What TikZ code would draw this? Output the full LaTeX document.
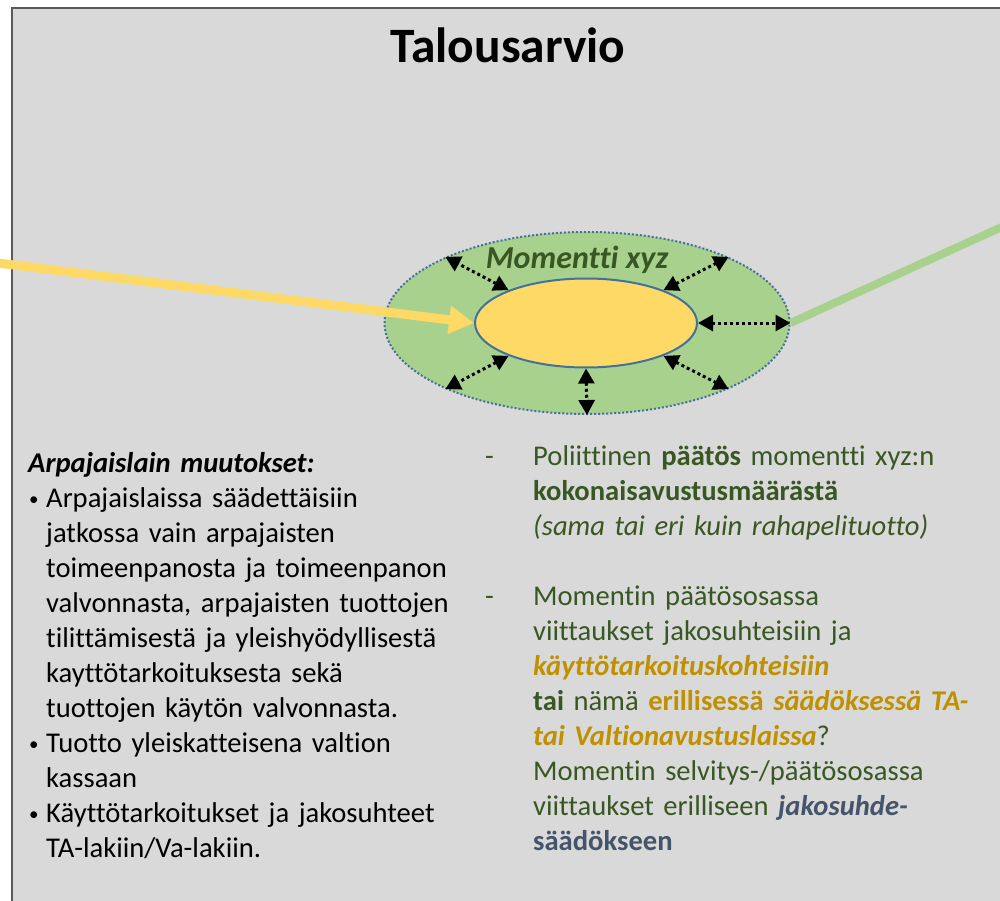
\documentclass[tikz,border=0pt]{standalone}
\usepackage{fontspec}
\setmainfont{Carlito}[Ligatures=NoCommon]
\usetikzlibrary{arrows.meta,shapes.geometric}
\definecolor{bggray}{HTML}{D9D9D9}
\definecolor{framegray}{HTML}{595959}
\definecolor{ogreen}{HTML}{A9D18E}
\definecolor{oblue}{HTML}{41719C}
\definecolor{iyellow}{HTML}{FFD966}
\definecolor{dgreen}{HTML}{385723}
\definecolor{gold}{HTML}{BF9000}
\definecolor{bluegray}{HTML}{44546A}
\newcommand\bul{\makebox[18pt][l]{\hspace*{1pt}\raisebox{1.5pt}{\fontsize{19}{19}\selectfont •}}}
\newcommand\ind{\hspace*{18pt}}
\newcommand\dsh{\makebox[48pt][l]{-}}
\newcommand\dind{\hspace*{48pt}}
\newcommand\bodyfont{\fontsize{28.6}{35}\selectfont\setlength{\lineskiplimit}{-100pt}}
\tikzset{
  outerell/.style={ellipse, draw=oblue, fill=ogreen, line width=2pt, dash pattern=on 2pt off 2pt, inner sep=0pt, minimum width=405pt, minimum height=182pt},
  innerell/.style={ellipse, draw=oblue, fill=iyellow, line width=2pt, inner sep=0pt, minimum width=222pt, minimum height=89pt},
  dotarrow/.style={black, line width=3pt, dash pattern=on 3pt off 3pt, {Triangle[length=15pt,width=16pt]}-{Triangle[length=15pt,width=16pt]}},
  yarrow/.style={iyellow, line width=9pt, -{Triangle[length=25pt,width=27pt]}},
  gline/.style={ogreen, line width=8pt},
  bodytext/.style={inner sep=0pt, anchor=base west, align=left, font=\bodyfont}
}
\begin{document}
\begin{tikzpicture}[x=1pt,y=-1pt]
\useasboundingbox (0,0) rectangle (1000,901);
\fill[bggray] (12,8) rectangle (1000,901);
\draw[framegray, line width=2.5pt] (12,901) -- (12,8) -- (1000,8);

\node[anchor=base, inner sep=0pt, font=\fontsize{49.5}{58}\selectfont\bfseries] (title) at (508,63) {Talousarvio};

\node[outerell] (outer) at (587,323) {};
\node[innerell] (inner) at (586,323) {};
\node[anchor=base, inner sep=0pt, text=dgreen, font=\fontsize{32}{38}\selectfont\bfseries\itshape] (mom) at (577,268) {Momentti xyz};

\draw[dotarrow] (inner.157) -- (outer.155);
\draw[dotarrow] (inner.23) -- (outer.25);
\draw[dotarrow] (inner.203) -- (outer.205);
\draw[dotarrow] (inner.337) -- (outer.335);
\draw[dotarrow] (inner.0) -- (outer.0);
\draw[dotarrow] (inner.270) -- (outer.270);

\coordinate (ystart) at (-2,263);
\coordinate (gend) at (1004,226);
\draw[yarrow] (ystart) -- (inner.west);
\draw[gline] (outer.east) -- (gend);

\node[bodytext, text width=460pt] (left) at (28,472) {%
\textbf{\textit{Arpajaislain muutokset:}}\\
\bul Arpajaislaissa säädettäisiin\\
\ind jatkossa vain arpajaisten\\
\ind toimeenpanosta ja toimeenpanon\\
\ind valvonnasta, arpajaisten tuottojen\\
\ind tilittämisestä ja yleishyödyllisestä\\
\ind kayttötarkoituksesta sekä\\
\ind tuottojen käytön valvonnasta.\\
\bul Tuotto yleiskatteisena valtion\\
\ind kassaan\\
\bul Käyttötarkoitukset ja jakosuhteet\\
\ind TA-lakiin/Va-lakiin.};

\node[bodytext, text width=520pt, text=dgreen] (right) at (485,465) {%
\dsh Poliittinen \textbf{päätös} momentti xyz:n\\
\dind\textbf{kokonaisavustusmäärästä}\\
\dind\textit{(sama tai eri kuin rahapelituotto)}\\[35pt]
\dsh Momentin päätösosassa\\
\dind viittaukset jakosuhteisiin ja\\
\dind{\color{gold}\bfseries\itshape käyttötarkoituskohteisiin}\\
\dind\textbf{tai} nämä {\color{gold}\bfseries erillisessä \itshape säädöksessä TA-}\\
\dind{\color{gold}\bfseries\itshape tai Valtionavustuslaissa}?\\
\dind Momentin selvitys-/päätösosassa\\
\dind viittaukset erilliseen {\color{bluegray}\bfseries\itshape jakosuhde-}\\
\dind{\color{bluegray}\bfseries säädökseen}};
\end{tikzpicture}
\end{document}
